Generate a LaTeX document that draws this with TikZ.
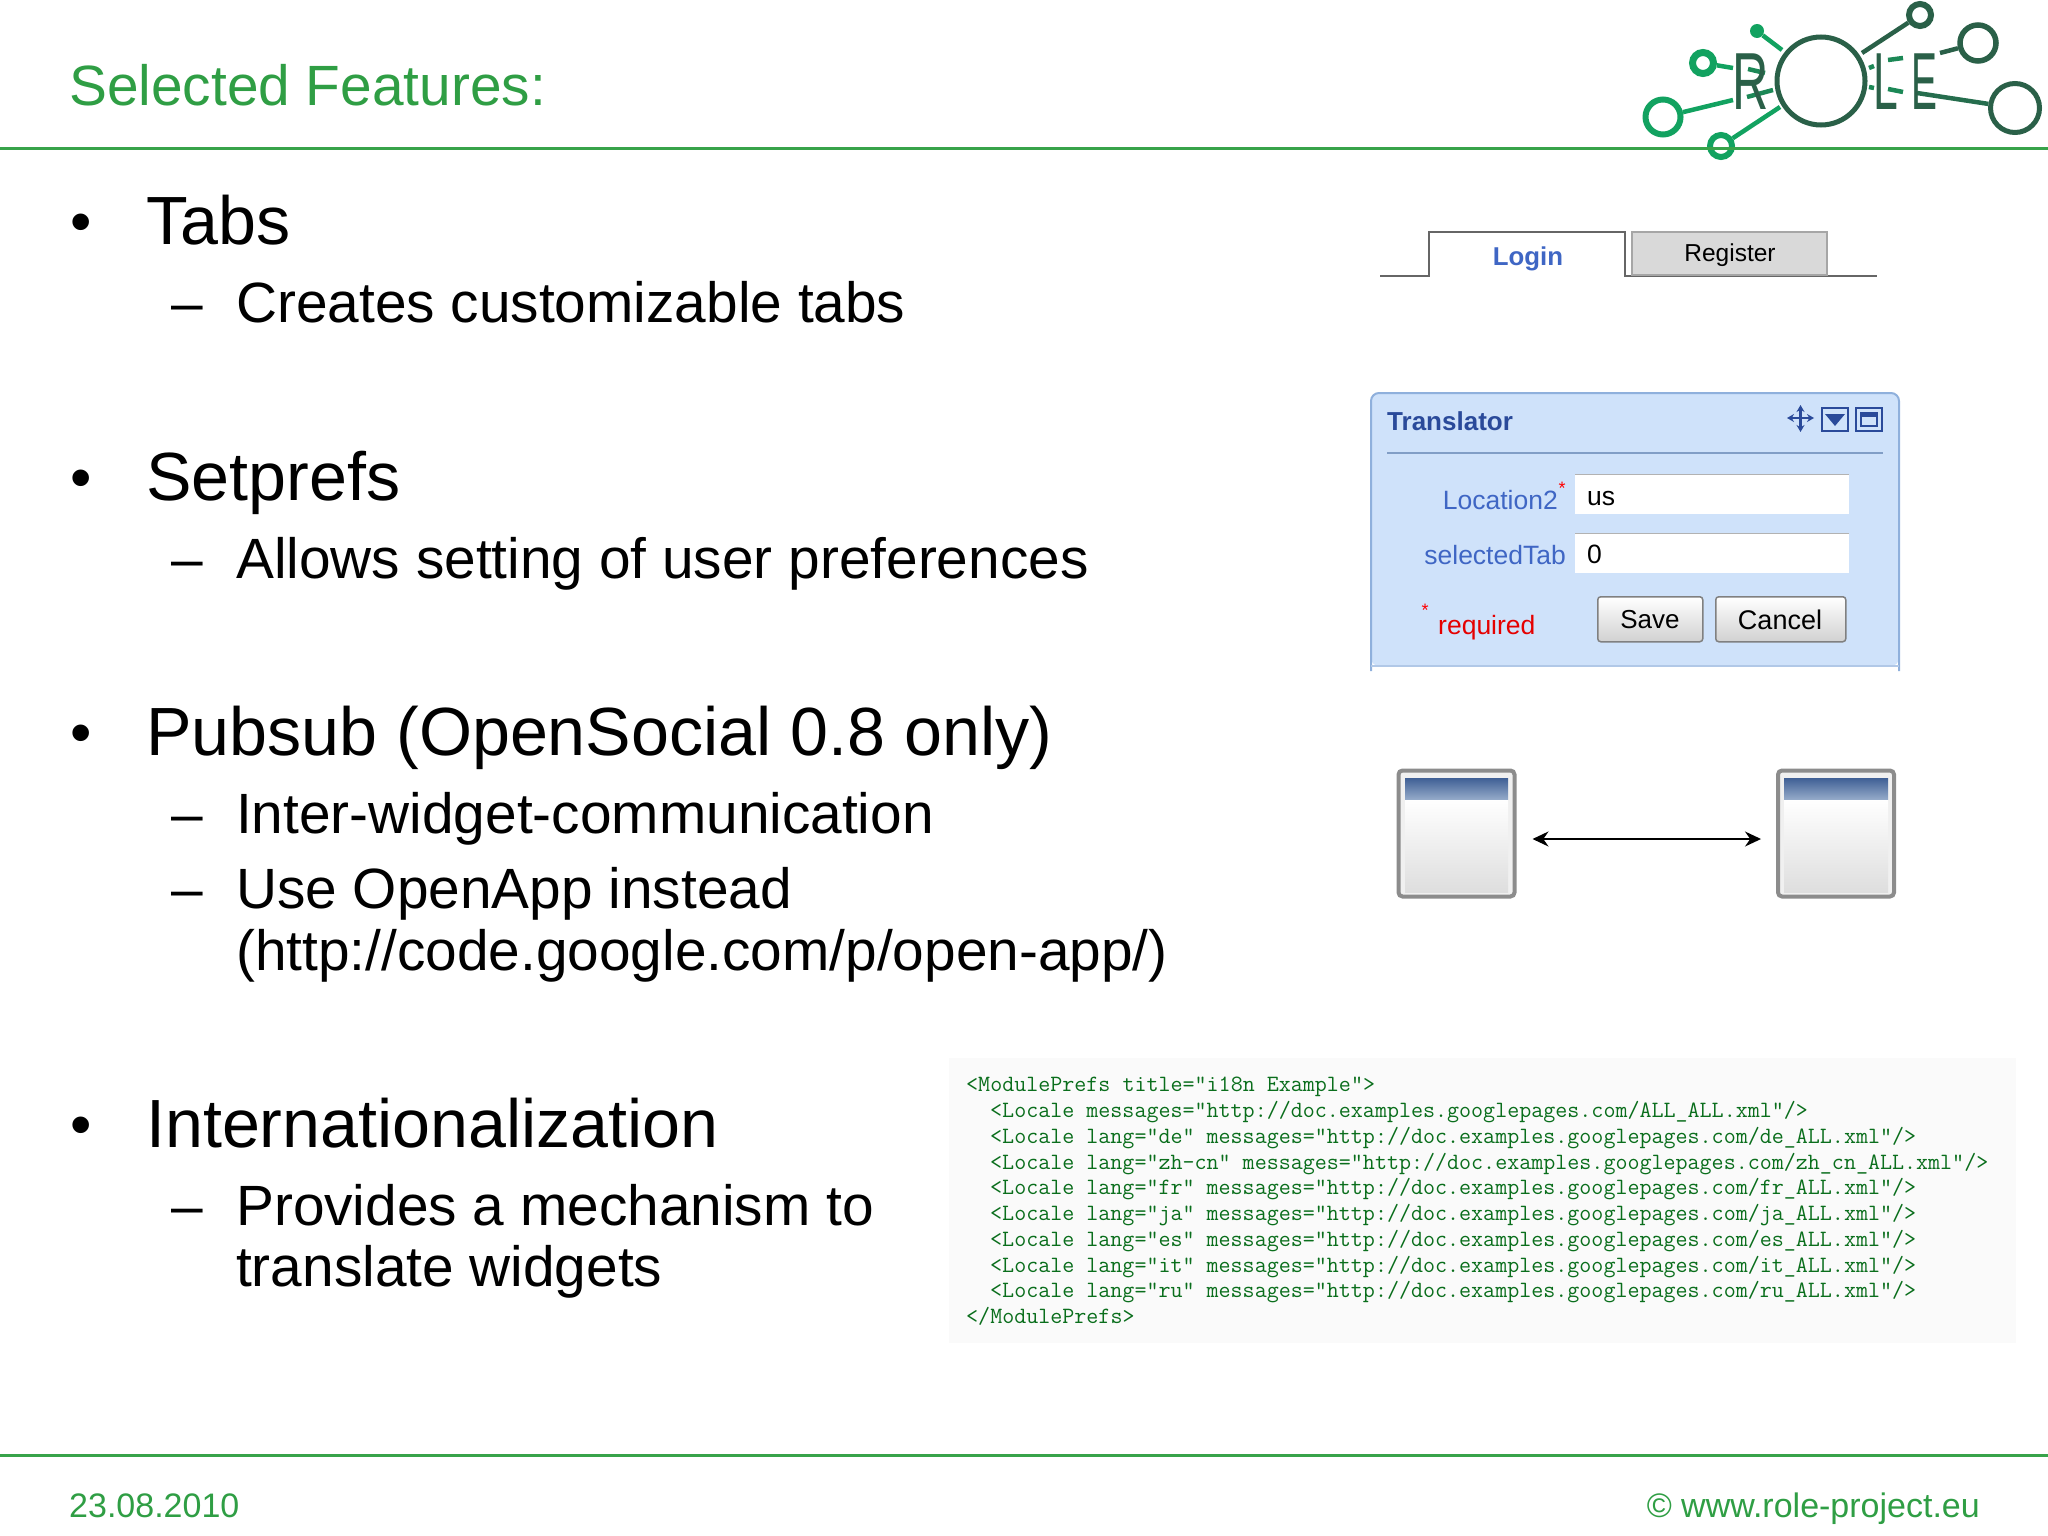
\documentclass[tikz,border=0pt]{standalone}
\usepackage{fontspec}
\setmainfont{Liberation Sans}
\usetikzlibrary{arrows.meta}
\definecolor{rolegreen}{HTML}{2F9E44}
\definecolor{rulegreen}{HTML}{38A34A}
\definecolor{logolight}{HTML}{12A260}
\definecolor{logodark}{HTML}{2A6048}
\definecolor{panelblue}{HTML}{CFE2FA}
\definecolor{panelline}{HTML}{8FB0DC}
\definecolor{inkblue}{HTML}{2A4A9A}
\definecolor{labelblue}{HTML}{3F66C4}
\definecolor{codegreen}{HTML}{0A6E1C}
\definecolor{headtop}{HTML}{3F5F95}
\definecolor{headbottom}{HTML}{93A9C8}
\tikzset{
  headtext/.style={anchor=base west,inner sep=0pt,font=\fontsize{68.2}{68}\selectfont},
  bulletdot/.style={anchor=base west,inner sep=0pt,font=\fontsize{61}{61}\selectfont},
  subtext/.style={anchor=base west,inner sep=0pt,font=\fontsize{56.8}{60}\selectfont},
  toptitle/.style={anchor=base west,inner sep=0pt,text=rolegreen,font=\fontsize{56.8}{60}\selectfont},
  foottext/.style={inner sep=0pt,text=rolegreen,font=\fontsize{34}{36}\selectfont},
  logoring/.style={circle,draw,inner sep=0pt},
  logoletter/.style={anchor=base west,inner sep=0pt,text=logodark,font=\fontsize{81}{81}\selectfont},
  tabtext/.style={inner sep=0pt,font=\fontsize{25}{28}\selectfont},
  uitext/.style={inner sep=0pt,font=\fontsize{26.5}{28}\selectfont},
  fieldbox/.style={anchor=north west,draw=none,fill=white,inner sep=0pt,minimum width=274pt,minimum height=40pt},
  pushbutton/.style={anchor=north west,draw=gray,line width=1.5pt,rounded corners=3pt,inner sep=0pt,top color=white,bottom color=black!18,minimum height=45pt},
  widgetbox/.style={draw=black!45,line width=4pt,rounded corners=4pt,fill=black!6,inner sep=0pt,minimum width=116pt,minimum height=126pt},
  codeline/.style={anchor=base west,inner sep=0pt,text=codegreen,font=\fontsize{23.35}{25}\ttfamily\selectfont}
}
\begin{document}
\begin{tikzpicture}[x=1pt,y=-1pt]
  \useasboundingbox
    (0,0)
    rectangle
    (2048,1536);
  \node[logoring,draw=logodark,line width=6pt,minimum size=22pt] (ringtop)
    at (1920,15) {};
  \node[logoring,draw=logodark,line width=5.5pt,minimum size=36pt] (ringupper)
    at (1978,43) {};
  \node[logoring,draw=logodark,line width=5pt,minimum size=49pt] (ringlower)
    at (2015,108) {};
  \node[logoring,draw=logolight,line width=7pt,minimum size=21pt] (ringsmall)
    at (1703,63) {};
  \node[logoring,draw=logolight,line width=6pt,minimum size=35pt] (ringbig)
    at (1663,117) {};
  \node[logoring,draw=logolight,line width=6pt,minimum size=22pt] (ringbottom)
    at (1721,146) {};
  \node[circle,fill=logolight,inner sep=0pt,minimum size=14pt] (dottop)
    at (1757,31) {};
  \coordinate (ringtopend) at (1862,53);
  \coordinate (ringupperend) at (1940,53);
  \coordinate (ringlowerend) at (1917,93);
  \coordinate (ringsmallend) at (1733,68);
  \coordinate (ringbigend) at (1733,100);
  \coordinate (ringbottomend) at (1780,107);
  \coordinate (dottopend) at (1782,50);
  \draw[logodark,line width=4.5pt]
    (ringtop)
    --
    (ringtopend);
  \draw[logodark,line width=4.5pt]
    (ringupper)
    --
    (ringupperend);
  \draw[logodark!80!logolight,line width=4.5pt]
    (ringlower)
    --
    (ringlowerend);
  \draw[logolight,line width=4.5pt]
    (ringsmall)
    --
    (ringsmallend);
  \draw[logolight,line width=4.5pt]
    (ringbig)
    --
    (ringbigend);
  \draw[logolight,line width=4.5pt]
    (ringbottom)
    --
    (ringbottomend);
  \draw[logolight,line width=4.5pt]
    (dottop)
    --
    (dottopend);
  \draw[logolight!60!logodark,line width=4.5pt]
    (1748,69)
    --
    (1765,73);
  \draw[logolight!60!logodark,line width=4.5pt]
    (1747,97)
    --
    (1773,90);
  \draw[logolight!60!logodark,line width=4.5pt]
    (1888,60)
    --
    (1903,58);
  \draw[logolight!60!logodark,line width=4.5pt]
    (1869,68)
    --
    (1874,66);
  \draw[logolight!60!logodark,line width=4.5pt]
    (1888,89)
    --
    (1903,92);
  \draw[logolight!60!logodark,line width=4.5pt]
    (1869,87)
    --
    (1874,88);
  \draw[logodark,line width=5pt]
    (1821,81)
    circle
    [radius=44];
  \node[logoletter] (logor)
    at (1732,110) {\scalebox{0.62}[1]{R}};
  \node[logoletter] (logol)
    at (1873,110) {\scalebox{0.55}[1]{L}};
  \node[logoletter] (logoe)
    at (1911,110) {\scalebox{0.48}[1]{E}};
  \draw[rulegreen,line width=2.8pt]
    (0,148.3)
    --
    (2048,148.3);
  \draw[rulegreen,line width=2.8pt]
    (0,1455.5)
    --
    (2048,1455.5);
  \node[toptitle] (title)
    at (69,106) {Selected Features:};
  \node[foottext,anchor=base west] (footdate)
    at (69,1517) {23.08.2010};
  \node[foottext,anchor=base east] (footsite)
    at (1980,1517) {© www.role-project.eu};
  \node[bulletdot] (tabsdot)
    at (70,242) {•};
  \node[headtext] (tabshead)
    at (146,244) {Tabs};
  \node[subtext] (tabsdash)
    at (171,322) {–};
  \node[subtext] (tabssub)
    at (236,322) {Creates customizable tabs};
  \node[bulletdot] (prefsdot)
    at (70,498) {•};
  \node[headtext] (prefshead)
    at (146,500) {Setprefs};
  \node[subtext] (prefsdash)
    at (171,578) {–};
  \node[subtext] (prefssub)
    at (236,578) {Allows setting of user preferences};
  \node[bulletdot] (pubsubdot)
    at (70,753) {•};
  \node[headtext] (pubsubhead)
    at (146,755) {Pubsub (OpenSocial 0.8 only)};
  \node[subtext] (pubsubdash)
    at (171,833) {–};
  \node[subtext] (pubsubsub)
    at (236,833) {Inter-widget-communication};
  \node[subtext] (appdash)
    at (171,908) {–};
  \node[subtext] (appsub)
    at (236,908) {Use OpenApp instead};
  \node[subtext] (applink)
    at (236,970) {(http://code.google.com/p/open-app/)};
  \node[bulletdot] (localedot)
    at (70,1145) {•};
  \node[headtext] (localehead)
    at (146,1147) {Internationalization};
  \node[subtext] (localedash)
    at (171,1225) {–};
  \node[subtext] (localesub)
    at (236,1225) {Provides a mechanism to};
  \node[subtext] (localemore)
    at (236,1286) {translate widgets};
  \draw[black!60,line width=2pt]
    (1380,275.5)
    --
    (1429,275.5)
    --
    (1429,232)
    --
    (1625,232)
    --
    (1625,275.5)
    --
    (1877,275.5);
  \filldraw[fill=black!15,draw=black!35,line width=1.5pt]
    (1632,232)
    rectangle
    (1827,275);
  \node[tabtext,text=labelblue,font=\fontsize{25.8}{28}\bfseries\selectfont] (tablogin)
    at (1528,258.5) {Login};
  \node[tabtext,font=\fontsize{24.5}{28}\selectfont] (tabregister)
    at (1730,255.5) {Register};
  \fill[panelblue,rounded corners=8pt]
    (1371,666)
    --
    (1371,393)
    --
    (1899,393)
    --
    (1899,666)
    --
    cycle;
  \draw[panelline,line width=2pt,rounded corners=8pt]
    (1371,671)
    --
    (1371,393)
    --
    (1899,393)
    --
    (1899,671);
  \draw[panelline!70!white,line width=1.5pt]
    (1371,666)
    --
    (1899,666);
  \node[uitext,anchor=west,text=inkblue,font=\fontsize{26}{28}\bfseries\selectfont] (paneltitle)
    at (1387,421) {Translator};
  \draw[panelline!90!black,line width=1.5pt]
    (1387,453)
    --
    (1883,453);
  \draw[{Stealth[length=7pt,width=8pt]}-{Stealth[length=7pt,width=8pt]},inkblue,line width=2.5pt]
    (1787,418)
    --
    (1814,418);
  \draw[{Stealth[length=7pt,width=8pt]}-{Stealth[length=7pt,width=8pt]},inkblue,line width=2.5pt]
    (1800.5,405)
    --
    (1800.5,432);
  \draw[inkblue,line width=2.2pt]
    (1822,408)
    rectangle
    (1848,431);
  \fill[inkblue]
    (1825,414)
    --
    (1845,414)
    --
    (1835,426)
    --
    cycle;
  \draw[inkblue,line width=2.2pt]
    (1856,408)
    rectangle
    (1882,431);
  \draw[inkblue,line width=1.5pt]
    (1861,413)
    rectangle
    (1877,426);
  \fill[inkblue]
    (1861,413)
    rectangle
    (1877,417);
  \node[fieldbox] (fieldlocation)
    at (1575,474) {};
  \node[fieldbox] (fieldtab)
    at (1575,533) {};
  \draw[black!30,line width=1pt]
    (fieldlocation.north west)
    --
    (fieldlocation.north east);
  \draw[black!30,line width=1pt]
    (fieldtab.north west)
    --
    (fieldtab.north east);
  \node[uitext,anchor=west] (valueus)
    at (1587,499) {us};
  \node[uitext,anchor=west] (valuezero)
    at (1587,554) {0};
  \node[uitext,anchor=base east,text=labelblue] (labellocation)
    at (1558,509) {Location2};
  \node[uitext,text=red,font=\fontsize{18}{20}\selectfont] (starlocation)
    at (1562,488) {*};
  \node[uitext,anchor=base east,text=labelblue] (labeltab)
    at (1566,564) {selectedTab};
  \node[uitext,text=red,font=\fontsize{18}{20}\selectfont] (starrequired)
    at (1425,610) {*};
  \node[uitext,anchor=base west,text=red!90!black] (labelrequired)
    at (1438,634) {required};
  \node[pushbutton,minimum width=105pt] (savebutton)
    at (1597,596) {};
  \node[pushbutton,minimum width=130pt] (cancelbutton)
    at (1715,596) {};
  \node[uitext,font=\fontsize{26}{28}\selectfont] (savetext)
    at (1650,620) {Save};
  \node[uitext,font=\fontsize{27}{28}\selectfont] (canceltext)
    at (1780,620) {Cancel};
  \node[widgetbox] (widgetleft)
    at (1456.5,833.5) {};
  \node[widgetbox] (widgetright)
    at (1836,833.5) {};
  \shade[top color=white,bottom color=black!13]
    (1405,799)
    rectangle
    (1508,892);
  \shade[top color=white,bottom color=black!13]
    (1784,799)
    rectangle
    (1888,892);
  \shade[top color=headtop,bottom color=headbottom]
    (1405,778)
    rectangle
    (1508,799);
  \shade[top color=headtop,bottom color=headbottom]
    (1784,778)
    rectangle
    (1888,799);
  \draw[{Stealth[length=16pt,width=15pt]}-{Stealth[length=16pt,width=15pt]},line width=1.5pt,shorten <=16pt,shorten >=15pt]
    ([yshift=-5.5pt]widgetleft.east)
    --
    ([yshift=-5.5pt]widgetright.west);
  \fill[black!2]
    (949,1058)
    rectangle
    (2016,1343);
  \node[codeline] (codeopen)
    at (966,1091.5) {<ModulePrefs title="i18n Example">};
  \node[codeline] (codeall)
    at (990,1117) {<Locale messages="http://doc.examples.googlepages.com/ALL\_ALL.xml"/>};
  \node[codeline] (codede)
    at (990,1143) {<Locale lang="de" messages="http://doc.examples.googlepages.com/de\_ALL.xml"/>};
  \node[codeline] (codezh)
    at (990,1169) {<Locale lang="zh-cn" messages="http://doc.examples.googlepages.com/zh\_cn\_ALL.xml"/>};
  \node[codeline] (codefr)
    at (990,1194.5) {<Locale lang="fr" messages="http://doc.examples.googlepages.com/fr\_ALL.xml"/>};
  \node[codeline] (codeja)
    at (990,1220.5) {<Locale lang="ja" messages="http://doc.examples.googlepages.com/ja\_ALL.xml"/>};
  \node[codeline] (codees)
    at (990,1246) {<Locale lang="es" messages="http://doc.examples.googlepages.com/es\_ALL.xml"/>};
  \node[codeline] (codeit)
    at (990,1272) {<Locale lang="it" messages="http://doc.examples.googlepages.com/it\_ALL.xml"/>};
  \node[codeline] (coderu)
    at (990,1297.5) {<Locale lang="ru" messages="http://doc.examples.googlepages.com/ru\_ALL.xml"/>};
  \node[codeline] (codeclose)
    at (966,1323.5) {</ModulePrefs>};
\end{tikzpicture}
\end{document}
